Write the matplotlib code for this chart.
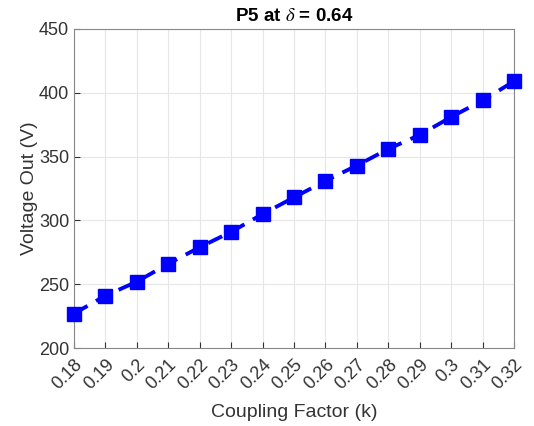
import matplotlib
matplotlib.use('Agg')
import matplotlib.pyplot as plt
import numpy as np

plt.rcParams['font.family'] = ['Liberation Sans', 'DejaVu Sans']
plt.rcParams['mathtext.fontset'] = 'stix'

k = [0.18, 0.19, 0.20, 0.21, 0.22, 0.23, 0.24, 0.25, 0.26, 0.27, 0.28, 0.29, 0.30, 0.31, 0.32]
v_out = [227, 241, 252, 266, 279, 291, 305, 318, 331, 343, 356, 367, 381, 394, 409]
k_labels = ['0.18', '0.19', '0.2', '0.21', '0.22', '0.23', '0.24', '0.25', '0.26',
            '0.27', '0.28', '0.29', '0.3', '0.31', '0.32']

fig = plt.figure(figsize=(5.34, 4.26), dpi=100)
ax = fig.add_axes([0.1386, 0.183, 0.824, 0.749])

ax.plot(k, v_out, '--s', color='#0000ff', linewidth=2.8, markersize=10,
        dashes=(4, 2.5), clip_on=False, zorder=3)

ax.set_xlim(0.18, 0.32)
ax.set_ylim(200, 450)
ax.set_xticks(k)
ax.set_xticklabels(k_labels, rotation=45, ha='right', rotation_mode='anchor')
ax.set_yticks(np.arange(200, 451, 50))
ax.grid(True, color='#e6e6e6', linewidth=0.8)
ax.set_axisbelow(True)
ax.tick_params(direction='in', colors='#333333', labelsize=13, length=4, width=0.8)
ax.tick_params(axis='x', pad=6)
for s in ax.spines.values():
    s.set_color('#888888')
    s.set_linewidth(0.8)

ax.set_xlabel('Coupling Factor (k)', fontsize=14, color='#333333', labelpad=8)
ax.set_ylabel('Voltage Out (V)', fontsize=14, color='#333333', labelpad=1)
ax.set_title(r'P5 at $\delta$ = 0.64', fontsize=13.5, fontweight='bold', pad=6)

fig.savefig('out.png', dpi=100)
